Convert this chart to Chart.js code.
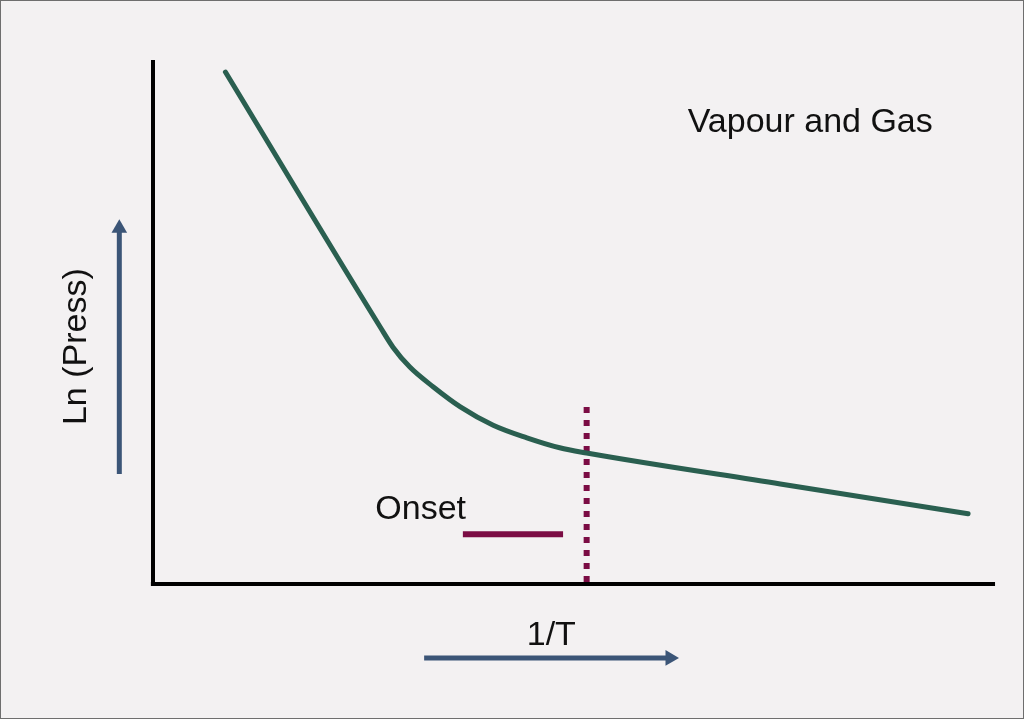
<!DOCTYPE html>
<html>
<head>
<meta charset="utf-8">
<script src="https://cdn.jsdelivr.net/npm/chart.js@4/dist/chart.umd.min.js"></script>
<style>
body{margin:0;background:#f3f1f2;}
canvas{display:block;}
</style>
</head>
<body>
<canvas id="chart" width="1024" height="719"></canvas>
<script>
// curve: Ln(Press) against 1/T (arbitrary 0-100 units, axes meet at 0,0)
const curveX = [8.6, 27.0, 28.5, 30.5, 33.3, 36.5, 40.4, 44.4, 48.3, 51.5, 74.5, 96.8];
const curveY = [97.7, 49.0, 45.2, 41.4, 37.6, 33.8, 30.3, 27.9, 26.0, 25.0, 19.1, 13.4];

// onset marker
const onsetX = 51.5;
const onsetTop = 33.8;
const onsetBarX = [36.8, 48.7];
const onsetBarY = 9.5;

// direction arrows outside the axes
const upArrowX = -4.0;
const upArrowY = [21.0, 67.9];
const rightArrowY = -14.1;
const rightArrowX = [32.2, 61.4];

// text labels
const labels = [
  {text: "Vapour and Gas", x: 63.5, y: 86.2, align: "left", rot: 0},
  {text: "Onset", x: 26.4, y: 12.4, align: "left", rot: 0},
  {text: "1/T", x: 47.3, y: -11.6, align: "center", rot: 0},
  {text: "Ln (Press)", x: -7.96, y: 45.3, align: "center", rot: -90}
];

const green = "#2a5f50";
const maroon = "#7b0c44";
const blue = "#3b5577";

const pts = (xs, ys) => xs.map((x, i) => ({x: x, y: ys[i]}));

const frame = {
  id: "frame",
  beforeDraw(chart){
    const c = chart.ctx;
    c.save();
    c.fillStyle = "#f3f1f2";
    c.fillRect(0, 0, chart.width, chart.height);
    c.strokeStyle = "#6e6e6e";
    c.lineWidth = 2;
    c.strokeRect(0, 0, chart.width, chart.height);
    c.restore();
  },
  afterDatasetsDraw(chart){
    const c = chart.ctx;
    const sx = chart.scales.x, sy = chart.scales.y;
    c.save();
    c.fillStyle = "#111";
    c.font = "34px 'Liberation Sans', Arial, sans-serif";
    c.textBaseline = "alphabetic";
    labels.forEach(l=>{
      c.save();
      c.translate(sx.getPixelForValue(l.x), sy.getPixelForValue(l.y));
      c.rotate(l.rot * Math.PI / 180);
      c.textAlign = l.align;
      c.fillText(l.text, 0, 0);
      c.restore();
    });
    c.restore();
  }
};

new Chart(document.getElementById("chart"), {
  type: "line",
  data: {
    datasets: [
      {
        data: pts(curveX, curveY),
        borderColor: green,
        borderWidth: 5,
        borderCapStyle: "round",
        cubicInterpolationMode: "monotone",
        pointRadius: 0
      },
      {
        data: [{x: onsetX, y: onsetTop}, {x: onsetX, y: 0}],
        borderColor: maroon,
        borderWidth: 6,
        borderDash: [6, 7],
        pointRadius: 0
      },
      {
        data: [{x: onsetBarX[0], y: onsetBarY}, {x: onsetBarX[1], y: onsetBarY}],
        borderColor: maroon,
        borderWidth: 6,
        pointRadius: 0
      },
      {
        // y axis line
        data: [{x: 0, y: 100}, {x: 0, y: 0}],
        borderColor: "#000",
        borderWidth: 4,
        pointRadius: 0
      },
      {
        // x axis line
        data: [{x: -0.25, y: 0}, {x: 100, y: 0}],
        borderColor: "#000",
        borderWidth: 4,
        pointRadius: 0
      },
      {
        data: [{x: upArrowX, y: upArrowY[0]}, {x: upArrowX, y: upArrowY[1]}],
        borderColor: blue,
        borderWidth: 5,
        pointRadius: [0, 9],
        pointStyle: "triangle",
        pointBackgroundColor: blue,
        pointBorderColor: blue,
        pointBorderWidth: 0,
        pointHoverRadius: 0
      },
      {
        data: [{x: rightArrowX[0], y: rightArrowY}, {x: rightArrowX[1], y: rightArrowY}],
        borderColor: blue,
        borderWidth: 5,
        pointRadius: [0, 9],
        pointStyle: "triangle",
        pointRotation: 90,
        pointBackgroundColor: blue,
        pointBorderColor: blue,
        pointBorderWidth: 0,
        pointHoverRadius: 0
      }
    ]
  },
  options: {
    responsive: false,
    animation: false,
    events: [],
    layout: {padding: 0, autoPadding: false},
    plugins: {legend: {display: false}, tooltip: {enabled: false}},
    scales: {
      x: {type: "linear", min: -18.17, max: 103.44, display: false},
      y: {type: "linear", min: -25.76, max: 111.45, display: false}
    }
  },
  plugins: [frame]
});
</script>
</body>
</html>
